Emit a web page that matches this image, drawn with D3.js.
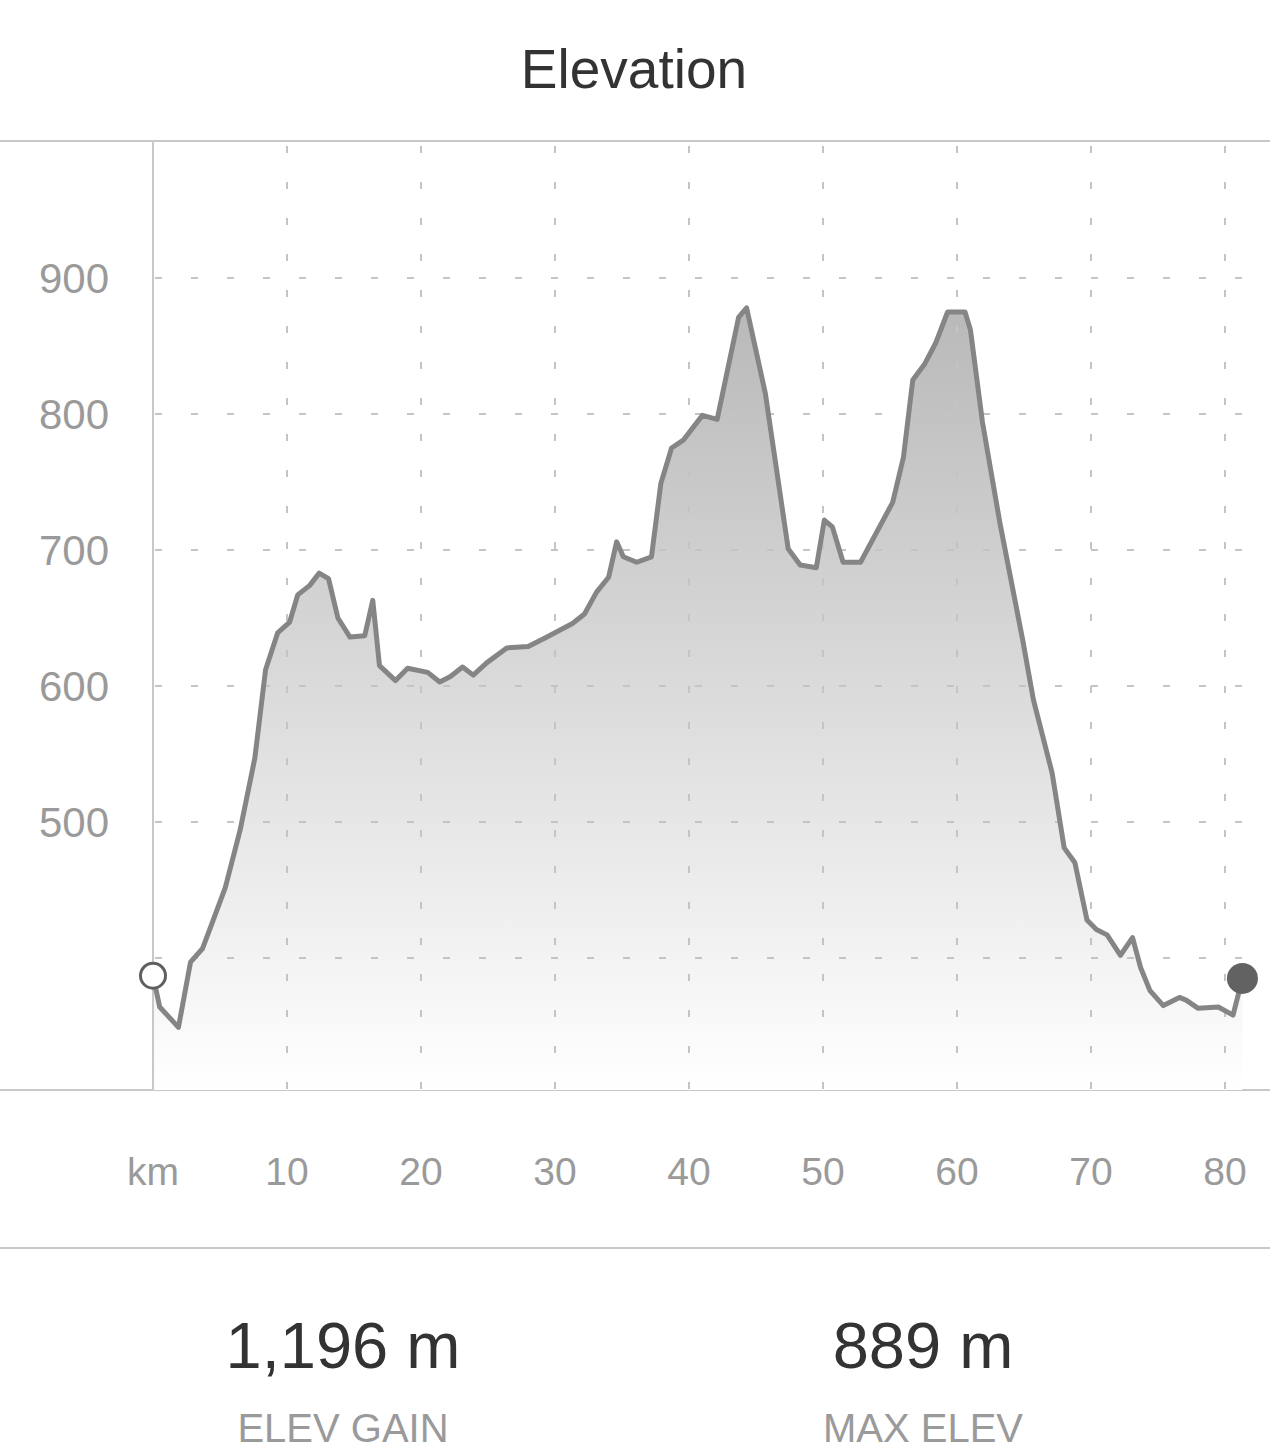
<!DOCTYPE html>
<html>
<head>
<meta charset="utf-8">
<script src="https://cdn.jsdelivr.net/npm/d3@7"></script>
<style>
  html, body { margin: 0; padding: 0; background: #fff; }
  svg { display: block; font-family: "Liberation Sans", "Helvetica Neue", Arial, sans-serif; }
</style>
</head>
<body>
<svg id="chart" width="1270" height="1452"></svg>
<script>
// Distance along route (km)
const distanceKm = [0, 0.5, 1.9, 2.8, 3.7, 4.5, 5.4, 6.5, 7.6, 8.4, 9.3, 10.2, 10.8, 11.7, 12.4, 13.1, 13.8, 14.7, 15.8, 16.4, 16.9, 18.1, 19.0, 20.5, 21.4, 22.2, 23.1, 23.9, 24.9, 26.4, 28.0, 29.4, 31.3, 32.2, 33.1, 34.0, 34.6, 35.1, 36.1, 37.2, 37.9, 38.7, 39.6, 41.0, 42.1, 43.7, 44.3, 45.1, 45.7, 47.4, 48.3, 49.5, 50.1, 50.7, 51.5, 52.8, 55.2, 56.0, 56.7, 57.6, 58.4, 59.3, 60.6, 61.0, 61.9, 63.2, 64.9, 65.7, 67.1, 68.0, 68.8, 69.7, 70.4, 71.2, 72.2, 73.1, 73.7, 74.4, 75.4, 76.6, 77.1, 78.0, 79.5, 80.6, 81.3];
// Elevation (m)
const elevationM = [387, 364, 349, 397, 407, 428, 452, 494, 547, 612, 639, 647, 667, 674, 683, 679, 650, 636, 637, 663, 615, 604, 613, 610, 603, 607, 614, 608, 617, 628, 629, 636, 646, 653, 669, 680, 706, 695, 691, 695, 749, 775, 781, 799, 796, 871, 878, 842, 815, 701, 689, 687, 722, 717, 691, 691, 735, 768, 825, 837, 852, 875, 875, 862, 794, 720, 634, 590, 536, 481, 470, 428, 421, 417, 402, 415, 393, 376, 365, 371, 369, 363, 364, 358, 385];

const xTickValues = [0, 10, 20, 30, 40, 50, 60, 70, 80];
const xTickLabels = ["km", "10", "20", "30", "40", "50", "60", "70", "80"];
const yGridValues = [400, 500, 600, 700, 800, 900];
const yTickLabels = ["", "500", "600", "700", "800", "900"];

const titleText = "Elevation";
const statValues = ["1,196 m", "889 m"];
const statLabels = ["ELEV GAIN", "MAX ELEV"];

const data = distanceKm.map((d, i) => ({ km: d, elev: elevationM[i] }));

const svg = d3.select("#chart");
const W = 1270;
const plotTop = 141, plotBottom = 1090;
const x = d3.scaleLinear().domain([0, 80]).range([153, 1225]);
const y = d3.scaleLinear().domain([400, 900]).range([958, 278]);
const baseElev = y.invert(plotBottom);

// Title
svg.append("text").attr("x", 634).attr("y", 88).attr("text-anchor", "middle")
  .attr("font-size", 55).attr("fill", "#333").text(titleText);

// Horizontal rules
[plotTop, plotBottom, 1248].forEach(yy => {
  svg.append("line").attr("x1", 0).attr("x2", W).attr("y1", yy).attr("y2", yy)
    .attr("stroke", "#c8c8c8").attr("stroke-width", 2);
});

// gradient
const defs = svg.append("defs");
const grad = defs.append("linearGradient").attr("id", "fillGrad")
  .attr("gradientUnits", "userSpaceOnUse")
  .attr("x1", 0).attr("x2", 0).attr("y1", y(d3.max(elevationM))).attr("y2", plotBottom);
grad.append("stop").attr("offset", "0%").attr("stop-color", "#b9b9b9");
grad.append("stop").attr("offset", "45%").attr("stop-color", "#d8d8d8");
grad.append("stop").attr("offset", "100%").attr("stop-color", "#ffffff");

// Area
const area = d3.area().x(d => x(d.km)).y0(y(baseElev)).y1(d => y(d.elev));
svg.append("path").datum(data).attr("d", area).attr("fill", "url(#fillGrad)");

// Horizontal grid (dashed)
svg.append("g").selectAll("line").data(yGridValues).join("line")
  .attr("x1", 153).attr("x2", 1246)
  .attr("y1", d => y(d)).attr("y2", d => y(d))
  .attr("stroke", "#c4c4c4").attr("stroke-width", 2)
  .attr("stroke-dasharray", "7,29").attr("stroke-dashoffset", -2);

// Vertical grid (dashed)
svg.append("g").selectAll("line").data(xTickValues.slice(1)).join("line")
  .attr("x1", d => x(d)).attr("x2", d => x(d))
  .attr("y1", plotTop).attr("y2", plotBottom)
  .attr("stroke", "#c4c4c4").attr("stroke-width", 2)
  .attr("stroke-dasharray", "7,29").attr("stroke-dashoffset", -5);

// Zero axis line
svg.append("line").attr("x1", x(0)).attr("x2", x(0)).attr("y1", plotTop).attr("y2", plotBottom)
  .attr("stroke", "#c8c8c8").attr("stroke-width", 2);

// Y labels
svg.append("g").selectAll("text").data(yGridValues).join("text")
  .attr("x", 109).attr("y", d => y(d) + 15).attr("text-anchor", "end")
  .attr("font-size", 42).attr("fill", "#9a9a9a")
  .text((d, i) => yTickLabels[i]);

// X labels
svg.append("g").selectAll("text").data(xTickValues).join("text")
  .attr("x", d => x(d)).attr("y", 1185).attr("text-anchor", "middle")
  .attr("font-size", 39).attr("fill", "#9a9a9a")
  .text((d, i) => xTickLabels[i]);

// Line
const line = d3.line().x(d => x(d.km)).y(d => y(d.elev));
svg.append("path").datum(data).attr("d", line)
  .attr("fill", "none").attr("stroke", "#858585").attr("stroke-width", 5)
  .attr("stroke-linejoin", "round");

// Start & end markers
const first = data[0], last = data[data.length - 1];
svg.append("circle").attr("cx", x(first.km)).attr("cy", y(first.elev)).attr("r", 12.5)
  .attr("fill", "#fff").attr("stroke", "#5f5f5f").attr("stroke-width", 3);
svg.append("circle").attr("cx", x(last.km)).attr("cy", y(last.elev)).attr("r", 15.5)
  .attr("fill", "#626262");

// Stats
const statX = [343, 923];
statValues.forEach((v, i) => {
  svg.append("text").attr("x", statX[i]).attr("y", 1368).attr("text-anchor", "middle")
    .attr("font-size", 65).attr("fill", "#333").text(v);
  svg.append("text").attr("x", statX[i]).attr("y", 1442).attr("text-anchor", "middle")
    .attr("font-size", 40).attr("fill", "#9a9a9a").text(statLabels[i]);
});
</script>
</body>
</html>
